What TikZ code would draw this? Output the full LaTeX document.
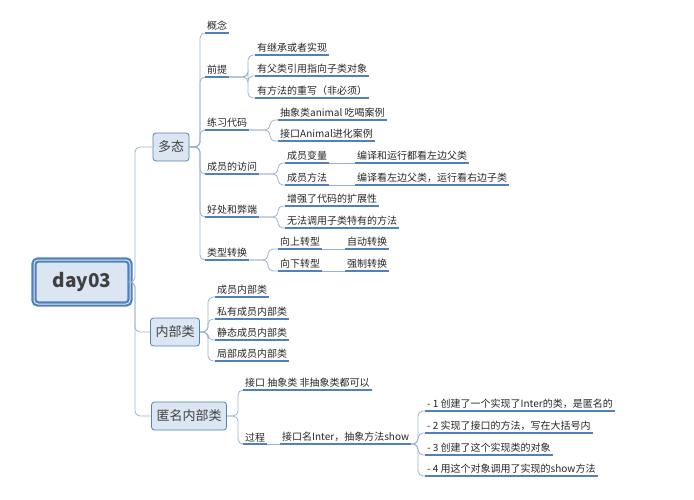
\documentclass[tikz,border=0pt]{standalone}
\usepackage{fontspec}
\setmainfont{Noto Sans CJK SC}
\definecolor{mapblue}{HTML}{4F81BD}
\definecolor{mapfill}{HTML}{DCE6F2}
\definecolor{mapline}{HTML}{9DB2CC}
\tikzset{
  leaf/.style={anchor=south west, inner xsep=2pt, inner ysep=2pt, font=\fontsize{10}{12}\selectfont, text=black!85,
    append after command={(\tikzlastnode.south west) edge[uline] (\tikzlastnode.south east)}},
  uline/.style={draw=mapblue, line width=1.1pt},
  conn/.style={draw=mapline, line width=0.8pt, rounded corners=5pt},
  topic/.style={draw=mapblue, fill=mapfill, rounded corners=3pt, line width=0.8pt, minimum height=28pt, inner xsep=5pt, font=\fontsize{13}{15}\selectfont, text=black!75},
}
\begin{document}
\begin{tikzpicture}[x=1pt, y=-1pt]
\useasboundingbox (0,0) rectangle (694,500);
% root and main topics
\node[draw=mapblue, line width=2.2pt, double=mapfill, double distance=1pt, fill=mapfill, rounded corners=4pt,
  minimum width=96pt, minimum height=44pt, font=\bfseries\fontsize{19}{22}\selectfont, text=black!75] (root) at (82,282) {day03};
\node[topic] (poly) at (171,147) {多态};
\node[topic] (inner) at (175,332) {内部类};
\node[topic] (anon) at (189,416) {匿名内部类};
\draw[conn] (root.east) -- (135,282) |- (poly.west);
\draw[conn] (root.east) -- (135,282) |- (inner.west);
\draw[conn] (root.east) -- (135,282) |- (anon.west);
% 多态
\node[leaf] (concept) at (205,33) {概念};
\node[leaf] (premise) at (205,77) {前提};
\node[leaf] (practice) at (205,130) {练习代码};
\node[leaf] (access) at (205,174) {成员的访问};
\node[leaf] (proscons) at (205,217) {好处和弊端};
\node[leaf] (cast) at (205,260) {类型转换};
\foreach \n in {concept,premise,practice,access,proscons,cast}
  \draw[conn] (poly.east) -- (200,147) |- (\n.south west);
\node[leaf] (pre1) at (255,55) {有继承或者实现};
\node[leaf] (pre2) at (255,76) {有父类引用指向子类对象};
\node[leaf] (pre3) at (255,98) {有方法的重写（非必须）};
\foreach \n in {pre1,pre2,pre3}
  \draw[conn] (premise.south east) -- (248,77) |- (\n.south west);
\node[leaf] (prac1) at (278,120) {抽象类animal 吃喝案例};
\node[leaf] (prac2) at (278,141) {接口Animal进化案例};
\foreach \n in {prac1,prac2}
  \draw[conn] (practice.south east) -- (270,130) |- (\n.south west);
\node[leaf] (var) at (285,163) {成员变量};
\node[leaf] (meth) at (285,185) {成员方法};
\foreach \n in {var,meth}
  \draw[conn] (access.south east) -- (278,174) |- (\n.south west);
\node[leaf] (var1) at (355,163) {编译和运行都看左边父类};
\node[leaf] (meth1) at (355,185) {编译看左边父类，运行看右边子类};
\draw[conn] (var.south east) -- (var1.south west);
\draw[conn] (meth.south east) -- (meth1.south west);
\node[leaf] (good) at (285,206) {增强了代码的扩展性};
\node[leaf] (bad) at (285,228) {无法调用子类特有的方法};
\foreach \n in {good,bad}
  \draw[conn] (proscons.south east) -- (278,217) |- (\n.south west);
\node[leaf] (up) at (278,249) {向上转型};
\node[leaf] (down) at (278,271) {向下转型};
\foreach \n in {up,down}
  \draw[conn] (cast.south east) -- (268,260) |- (\n.south west);
\node[leaf] (up1) at (345,249) {自动转换};
\node[leaf] (down1) at (345,271) {强制转换};
\draw[conn] (up.south east) -- (up1.south west);
\draw[conn] (down.south east) -- (down1.south west);
% 内部类
\node[leaf] (in1) at (215,297) {成员内部类};
\node[leaf] (in2) at (215,319) {私有成员内部类};
\node[leaf] (in3) at (215,340) {静态成员内部类};
\node[leaf] (in4) at (215,361) {局部成员内部类};
\foreach \n in {in1,in2,in3,in4}
  \draw[conn] (inner.east) -- (208,332) |- (\n.south west);
% 匿名内部类
\node[leaf] (kind) at (243,390) {接口 抽象类 非抽象类都可以};
\node[leaf] (proc) at (243,444) {过程};
\foreach \n in {kind,proc}
  \draw[conn] (anon.east) -- (238,416) |- (\n.south west);
\node[leaf] (iface) at (280,444) {接口名Inter，抽象方法show};
\draw[conn] (proc.south east) -- (iface.south west);
\node[leaf] (st1) at (425,411) {- 1 创建了一个实现了Inter的类，是匿名的};
\node[leaf] (st2) at (425,433) {- 2 实现了接口的方法，写在大括号内};
\node[leaf] (st3) at (425,455) {- 3 创建了这个实现类的对象};
\node[leaf] (st4) at (425,476) {- 4 用这个对象调用了实现的show方法};
\foreach \n in {st1,st2,st3,st4}
  \draw[conn] (iface.south east) -- (418,444) |- (\n.south west);
\end{tikzpicture}
\end{document}
